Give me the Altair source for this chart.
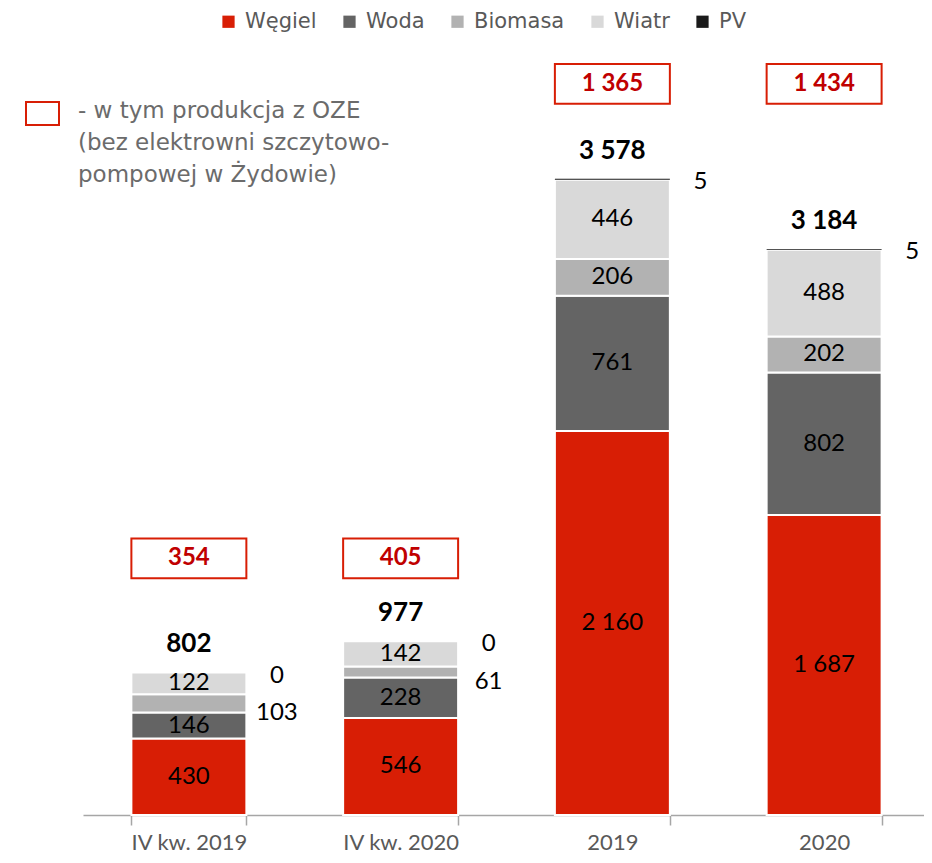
import altair as alt
import pandas as pd

categories = ["IV kw. 2019", "IV kw. 2020", "2019", "2020"]
groups = ["kw", "kw", "rok", "rok"]
series = ["Węgiel", "Woda", "Biomasa", "Wiatr", "PV"]
colors = ["#d81e05", "#646464", "#b2b2b2", "#d9d9d9", "#1a1a1a"]
wegiel = [430, 546, 2160, 1687]
woda = [146, 228, 761, 802]
biomasa = [103, 61, 206, 202]
wiatr = [122, 142, 446, 488]
pv = [0, 0, 5, 5]
totals = [802, 977, 3578, 3184]
oze = [354, 405, 1365, 1434]
oze_note = ["- w tym produkcja z OZE", "(bez elektrowni szczytowo-", "pompowej w Żydowie)"]


def fmt(v):
    return f"{v:,}".replace(",", " ")


values = [wegiel, woda, biomasa, wiatr, pv]
rows = []
for si, (s, vals) in enumerate(zip(series, values)):
    for ci, c in enumerate(categories):
        rows.append({"cat": c, "series": s, "idx": si, "value": vals[ci],
                     "label": fmt(vals[ci]),
                     "outside": vals[ci] < 110, "pv": s == "PV"})
df = pd.DataFrame(rows)

df_tot = pd.DataFrame({"cat": categories, "grp": groups, "total": totals,
                       "tlabel": [fmt(v) for v in totals],
                       "oze": oze, "olabel": [fmt(v) for v in oze]})

FONT = "Lato"
x_enc = alt.X("cat:N", sort=categories,
              scale=alt.Scale(paddingInner=0.457, paddingOuter=0.2285, range=[0, 847]),
              axis=alt.Axis(title=None, labelAngle=0, tickBand="extent",
                            domainColor="#a6a6a6", tickColor="#a6a6a6",
                            tickSize=10, domainWidth=1.5, tickWidth=1.5,
                            labelFont=FONT, labelFontSize=22, labelColor="#595959",
                            labelPadding=7))
y_scale = alt.Scale(domain=[0, 4505], nice=False, zero=True)

base = alt.Chart(df).transform_stack(
    stack="value", groupby=["cat"], sort=[alt.SortField("idx", order="ascending")],
    as_=["v0", "v1"]
).transform_calculate(mid="(datum.v0 + datum.v1) / 2")

bars = base.mark_bar(stroke="white").encode(
    x=x_enc,
    y=alt.Y("v0:Q", scale=y_scale, axis=None),
    y2="v1:Q",
    color=alt.Color("series:N", scale=alt.Scale(domain=series, range=colors),
                    legend=alt.Legend(title=None, orient="none", legendX=135, legendY=-3,
                                      direction="horizontal", symbolType="square",
                                      symbolSize=150, symbolStrokeWidth=0,
                                      labelFont="DejaVu Sans", labelFontSize=21,
                                      labelColor="#595959", columnPadding=22,
                                      labelOffset=6)),
    strokeWidth=alt.condition("datum.series == 'PV'", alt.value(0), alt.value(2)),
)

inside = base.transform_filter("!datum.outside").mark_text(
    font=FONT, fontSize=24, color="black", baseline="middle"
).encode(x=alt.X("cat:N", sort=categories), y=alt.Y("mid:Q"), text="label:N")

out_pv = base.transform_filter("datum.pv").mark_text(
    font=FONT, fontSize=24, color="black", baseline="middle", dx=88, dy=3
).encode(x=alt.X("cat:N", sort=categories), y=alt.Y("mid:Q"), text="label:N")

out_other = base.transform_filter("datum.outside && !datum.pv").mark_text(
    font=FONT, fontSize=24, color="black", baseline="middle", dx=88, dy=10
).encode(x=alt.X("cat:N", sort=categories), y=alt.Y("mid:Q"), text="label:N")

tot_base = alt.Chart(df_tot)
tot_text = tot_base.mark_text(
    font=FONT, fontSize=26, fontWeight="bold", color="black", baseline="middle", dy=-28
).encode(x=alt.X("cat:N", sort=categories), y=alt.Y("total:Q"), text="tlabel:N")

box_base = tot_base.transform_joinaggregate(
    gmax="max(total)", groupby=["grp"]
).transform_calculate(
    bc="datum.gmax * 1.026 + 441"
).transform_calculate(
    blo="datum.bc - 112", bhi="datum.bc + 112"
)
boxes = box_base.mark_rect(fill="white", stroke="#d81e05", strokeWidth=2).encode(
    x=alt.X("cat:N", sort=categories), y=alt.Y("blo:Q"), y2="bhi:Q")
box_text = box_base.mark_text(
    font=FONT, fontSize=24, fontWeight="bold", color="#c00000", baseline="middle"
).encode(x=alt.X("cat:N", sort=categories), y=alt.Y("bc:Q"), text="olabel:N")

note_df = pd.DataFrame({"t": ["\n".join(oze_note)]})
note_box = alt.Chart(note_df).mark_rect(fill="white", stroke="#d81e05", strokeWidth=2).encode(
    x=alt.value(-57), x2=alt.value(-24), y=alt.value(88), y2=alt.value(111))
note_text = alt.Chart(note_df).mark_text(
    font="DejaVu Sans", fontSize=23, color="#6b6b6b", align="left",
    baseline="alphabetic", lineBreak="\n", lineHeight=32
).encode(x=alt.value(-5), y=alt.value(104), text="t:N")

chart = alt.layer(
    bars, inside, out_pv, out_other, tot_text, boxes, box_text, note_box, note_text
).properties(
    width=841, height=801,
    autosize=alt.AutoSizeParams(type="none"),
    padding={"left": 75, "top": 6, "right": 0, "bottom": 40},
).configure_view(stroke=None)

chart.save("out.html", embed_options={"renderer": "svg", "actions": False})
